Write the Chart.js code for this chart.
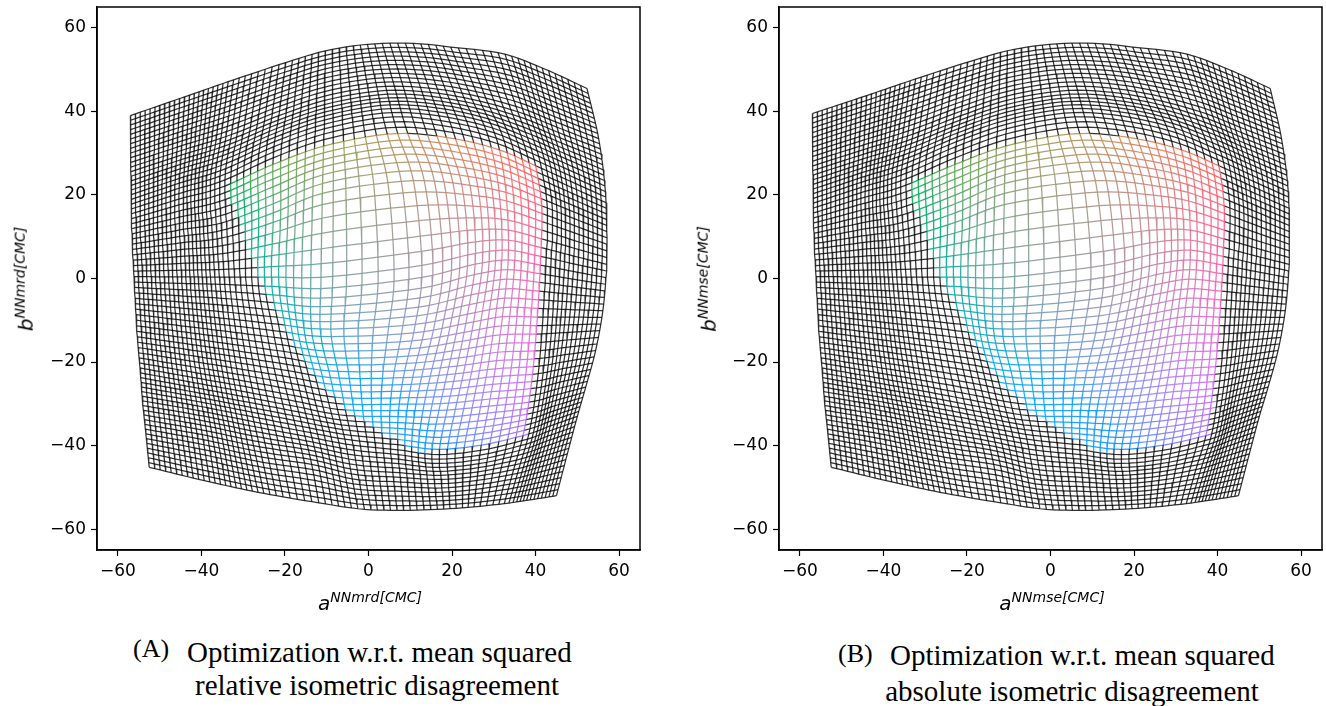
<!DOCTYPE html>
<html lang="en">
<head>
<meta charset="UTF-8">
<title>Isometric disagreement grids</title>
<script src="https://cdn.jsdelivr.net/npm/chart.js"></script>
<style>
    body {
        margin: 0;
        background: #fff;
        width: 1326px;
        height: 706px;
        position: relative;
        overflow: hidden;
    }
    .panel { position: absolute; top: 0; }
    .axlab {
        position: absolute;
        font-family: "DejaVu Sans", sans-serif;
        font-style: italic;
        font-size: 20px;
        color: #000;
        white-space: nowrap;
        line-height: 1;
    }
    .axlab sup { font-size: 14px; }
    .xlab { transform: translateX(-50%); }
    .ylab { transform: translate(-50%, -50%) rotate(-90deg); }
    .cap {
        position: absolute;
        font-family: "Liberation Serif", "Times New Roman", serif;
        font-size: 29px;
        color: #000;
        white-space: nowrap;
        line-height: 1;
    }
    .tag { font-size: 26px; }
    .center { transform: translateX(-50%); }
</style>
</head>
<body>

<canvas id="chartA" class="panel" width="663" height="590" style="left:0"></canvas>
<canvas id="chartB" class="panel" width="663" height="590" style="left:663px"></canvas>

<div class="axlab xlab" style="left:370px; top:590px">a<sup>NNmrd[CMC]</sup></div>
<div class="axlab ylab" style="left:24px; top:279px">b<sup>NNmrd[CMC]</sup></div>
<div class="axlab xlab" style="left:1052px; top:590px">a<sup>NNmse[CMC]</sup></div>
<div class="axlab ylab" style="left:707px; top:279px">b<sup>NNmse[CMC]</sup></div>

<div class="cap tag" style="left:133px; top:636px">(A)</div>
<div class="cap" style="left:187px; top:638px">Optimization w.r.t. mean squared</div>
<div class="cap center" style="left:377px; top:671px">relative isometric disagreement</div>

<div class="cap tag" style="left:838px; top:641px">(B)</div>
<div class="cap" style="left:890px; top:641px">Optimization w.r.t. mean squared</div>
<div class="cap center" style="left:1072px; top:677px">absolute isometric disagreement</div>

<script>
// grid-line number of the mesh nodes
const colKnots = [0, 11, 23, 29, 35.5, 42, 48, 53, 58, 65, 72];   // 73 columns
const rowKnots = [0, 10, 21, 27.5, 33.5, 39.5, 45.5, 51, 57, 64, 71];   // 72 rows
const colLines = 73;
const rowLines = 72;
const xTicks = [-60, -40, -20, 0, 20, 40, 60];
const yTicks = [-60, -40, -20, 0, 20, 40, 60];

// (A) mesh nodes, rows top -> bottom, columns left -> right
const meshAX = [
    [-57.0, -44.0, -29.5, -19.8, -9.5, 1.5, 12.5, 21.5, 31.0, 41.6, 52.3],
    [-56.9, -44.7, -31.2, -21.3, -9.55, 4.1, 16.5, 26.2, 35.3, 44.8, 55.1],
    [-56.7, -45.4, -33.0, -22.9, -9.6, 7.0, 20.85, 31.35, 40.0, 48.4, 56.8],
    [-56.5, -45.1, -32.5, -22.8, -9.8, 11.0, 24.5, 33.0, 41.5, 49.3, 57.1],
    [-56.1, -44.7, -32.0, -23.2, -10.05, 12.8, 25.6, 33.5, 41.2, 49.05, 56.9],
    [-55.7, -44.0, -30.7, -21.4, -10.3, 11.0, 23.5, 32.2, 40.5, 48.25, 56.0],
    [-55.2, -43.1, -29.2, -19.4, -8.25, 8.5, 21.0, 30.5, 39.55, 46.9, 54.2],
    [-54.6, -42.0, -27.6, -17.4, -6.5, 7.2, 18.8, 28.8, 38.4, 45.2, 52.0],
    [-54.1, -40.8, -25.9, -15.5, -4.8, 7.0, 17.0, 27.0, 37.0, 43.5, 50.0],
    [-53.3, -39.4, -24.0, -13.6, -3.3, 7.6, 17.4, 26.1, 34.75, 41.2, 47.6],
    [-52.5, -38.0, -22.05, -11.9, -1.75, 8.4, 18.05, 25.25, 32.5, 38.7, 45.0]
];
const meshAY = [
    [39.0, 43.5, 48.5, 51.7, 54.7, 56.2, 56.2, 55.2, 54.1, 50.4, 45.5],
    [27.8, 31.8, 36.2, 40.1, 43.9, 46.0, 45.35, 43.6, 41.2, 37.5, 33.5],
    [15.5, 19.0, 22.7, 27.3, 32.0, 34.7, 33.4, 30.8, 27.0, 23.25, 19.5],
    [7.6, 9.3, 11.3, 14.6, 19.4, 22.1, 21.15, 19.6, 16.5, 13.5, 10.5],
    [-0.2, -0.4, -0.6, -0.8, -1.05, 1.65, 4.7, 5.6, 4.25, 2.6, 1.0],
    [-8.0, -9.3, -10.75, -11.8, -13.0, -12.0, -9.65, -8.05, -8.2, -8.35, -8.5],
    [-15.9, -17.7, -19.8, -21.3, -23.0, -22.9, -21.9, -20.65, -20.2, -19.1, -18.0],
    [-22.6, -24.9, -27.5, -29.4, -31.4, -31.6, -31.5, -30.55, -29.6, -27.8, -26.0],
    [-29.3, -31.6, -34.6, -36.6, -38.6, -39.8, -40.9, -39.9, -37.6, -35.3, -33.0],
    [-37.2, -39.8, -43.0, -44.5, -46.9, -47.6, -48.1, -47.3, -45.75, -43.9, -42.0],
    [-45.2, -48.7, -52.0, -53.7, -55.2, -55.5, -55.2, -54.7, -53.9, -53.0, -52.0]
];
// (A) outline of the coloured (in-gamut) part
const gamutA = [
    [-33.4, 23.0], [-21.4, 28.4], [-7.8, 32.9], [7.0, 35.0], [21.0, 33.6], [31.8, 30.9], [40.4, 27.4],
    [41.9, 16.2], [41.6, 4.6], [41.0, -7.4], [40.2, -19.4], [39.0, -29.8], [37.6, -38.0],
    [27.5, -40.3], [17.1, -41.4], [11.6, -41.6],
    [3.0, -36.6], [-5.2, -31.5], [-12.3, -24.4], [-19.4, -13.3], [-26.5, 0.3], [-31.4, 15.0], [-33.6, 20.0]
];

// (B) mesh nodes
const meshBX = [
    [-57.0, -44.0, -29.5, -19.8, -9.5, 1.5, 12.5, 21.5, 31.0, 41.8, 52.6],
    [-56.9, -44.7, -31.3, -21.3, -9.55, 4.1, 16.5, 26.2, 35.4, 45.0, 55.3],
    [-56.7, -45.4, -33.2, -22.9, -9.6, 7.0, 20.85, 31.35, 40.3, 48.6, 57.0],
    [-56.5, -45.1, -32.6, -22.8, -9.8, 11.0, 24.5, 33.0, 41.6, 49.4, 57.2],
    [-56.1, -44.7, -32.0, -23.2, -10.05, 12.8, 25.6, 33.5, 41.3, 49.1, 57.0],
    [-55.7, -44.0, -30.7, -21.4, -10.3, 11.0, 23.5, 32.2, 40.6, 48.3, 56.1],
    [-55.2, -43.1, -29.2, -19.4, -8.25, 8.5, 21.0, 30.5, 39.6, 47.0, 54.3],
    [-54.6, -42.0, -27.6, -17.4, -6.5, 7.2, 18.8, 28.8, 38.5, 45.3, 52.1],
    [-54.1, -40.8, -25.9, -15.5, -4.8, 7.0, 17.0, 27.0, 37.2, 43.6, 50.0],
    [-53.3, -39.4, -24.0, -13.6, -3.3, 7.6, 17.4, 26.1, 34.8, 41.2, 47.6],
    [-52.5, -38.0, -22.05, -11.9, -1.75, 8.4, 18.05, 25.25, 32.5, 38.7, 45.0]
];
const meshBY = [
    [39.5, 43.8, 48.7, 51.8, 54.7, 56.2, 56.2, 55.2, 54.1, 50.4, 45.5],
    [28.1, 32.0, 36.3, 40.1, 43.9, 46.0, 45.35, 43.6, 41.2, 37.5, 33.5],
    [15.7, 19.2, 22.9, 27.3, 32.0, 34.7, 33.4, 30.8, 27.0, 23.25, 19.5],
    [7.7, 9.4, 11.4, 14.6, 19.4, 22.1, 21.15, 19.6, 16.5, 13.5, 10.5],
    [-0.2, -0.4, -0.6, -0.8, -1.05, 1.65, 4.7, 5.6, 4.25, 2.6, 1.0],
    [-8.0, -9.3, -10.75, -11.8, -13.0, -12.0, -9.65, -8.05, -8.2, -8.35, -8.5],
    [-15.9, -17.7, -19.8, -21.3, -23.0, -22.9, -21.9, -20.65, -20.2, -19.1, -18.0],
    [-22.6, -24.9, -27.5, -29.4, -31.4, -31.6, -31.5, -30.55, -29.6, -27.8, -26.0],
    [-29.3, -31.6, -34.6, -36.6, -38.6, -39.8, -40.9, -39.9, -37.6, -35.3, -33.0],
    [-37.2, -39.8, -43.0, -44.5, -46.9, -47.6, -48.1, -47.3, -45.75, -43.9, -42.0],
    [-45.2, -48.7, -52.0, -53.7, -55.2, -55.5, -55.2, -54.7, -53.9, -53.0, -52.0]
];
const gamutB = [
    [-33.8, 23.2], [-21.4, 28.5], [-7.8, 32.9], [7.0, 35.0], [21.0, 33.6], [31.8, 30.9], [40.7, 27.4],
    [42.0, 16.2], [41.7, 4.6], [41.1, -7.4], [40.3, -19.4], [39.2, -29.8], [37.8, -38.0],
    [27.5, -40.3], [17.1, -41.4], [11.2, -41.6],
    [3.0, -36.6], [-5.2, -31.5], [-12.3, -24.4], [-19.4, -13.3], [-26.5, 0.3], [-31.6, 15.0], [-33.9, 20.0]
];

// ---- helpers ----
function slopes(t, v) {
    const n = t.length, m = [];
    for (let i = 0; i < n; i++) {
        if (i === 0) m.push((v[1] - v[0]) / (t[1] - t[0]));
        else if (i === n - 1) m.push((v[n - 1] - v[n - 2]) / (t[n - 1] - t[n - 2]));
        else {
            const h0 = t[i] - t[i - 1], h1 = t[i + 1] - t[i];
            const d0 = (v[i] - v[i - 1]) / h0, d1 = (v[i + 1] - v[i]) / h1;
            m.push((d0 * h1 + d1 * h0) / (h0 + h1));
        }
    }
    return m;
}

function spline(t, v, m, x) {
    let s = 0;
    while (s < t.length - 2 && x > t[s + 1]) s++;
    const h = t[s + 1] - t[s], u = (x - t[s]) / h;
    const u2 = u * u, u3 = u2 * u;
    return (2 * u3 - 3 * u2 + 1) * v[s] + (u3 - 2 * u2 + u) * h * m[s]
        + (-2 * u3 + 3 * u2) * v[s + 1] + (u3 - u2) * h * m[s + 1];
}

// every drawn grid line passes through the read-off nodes
function fillMesh(mesh, colIdx, rowIdx) {
    const along = mesh.map(row => {
        const m = slopes(colKnots, row);
        return colIdx.map(c => spline(colKnots, row, m, c));
    });
    const out = rowIdx.map(() => []);
    colIdx.forEach((c, ci) => {
        const col = along.map(r => r[ci]);
        const m = slopes(rowKnots, col);
        rowIdx.forEach((r, ri) => { out[ri][ci] = spline(rowKnots, col, m, r); });
    });
    return out;
}

function inside(poly, x, y) {
    let hit = false;
    for (let i = 0, j = poly.length - 1; i < poly.length; j = i++) {
        const [xi, yi] = poly[i], [xj, yj] = poly[j];
        if ((yi > y) !== (yj > y) && x < (xj - xi) * (y - yi) / (yj - yi) + xi) hit = !hit;
    }
    return hit;
}

function labColor(L, a, b) {
    const fy = (L + 16) / 116, fx = fy + a / 500, fz = fy - b / 200;
    const inv = t => t ** 3 > 0.008856 ? t ** 3 : (t - 16 / 116) / 7.787;
    const X = 0.95047 * inv(fx), Y = inv(fy), Z = 1.08883 * inv(fz);
    const lin = [
        3.2406 * X - 1.5372 * Y - 0.4986 * Z,
        -0.9689 * X + 1.8758 * Y + 0.0415 * Z,
        0.0557 * X - 0.2040 * Y + 1.0570 * Z
    ];
    const rgb = lin.map(c => {
        c = Math.min(1, Math.max(0, c));
        c = c <= 0.0031308 ? 12.92 * c : 1.055 * Math.pow(c, 1 / 2.4) - 0.055;
        return Math.round(c * 255);
    });
    return `rgba(${rgb[0]},${rgb[1]},${rgb[2]},0.88)`;
}

const darkLine = 'rgba(0,0,0,0.8)';

function segColor(poly, x, y, c, r) {
    if (!inside(poly, x, y)) return darkLine;
    return labColor(61, 3.8 * (c - 40), 3.8 * (32 - r));
}

function meshDataset(meshX, meshY, poly) {
    const colIdx = Array.from({ length: colLines }, (_, i) => i);
    const rowIdx = Array.from({ length: rowLines }, (_, i) => i);
    const X = fillMesh(meshX, colIdx, rowIdx), Y = fillMesh(meshY, colIdx, rowIdx);
    const pts = [], colors = [];
    for (let r = 0; r < rowLines; r++) {
        for (let c = 0; c < colLines; c++) {
            pts.push({ x: X[r][c], y: Y[r][c] });
            colors.push(c < colLines - 1 ? segColor(poly, (X[r][c] + X[r][c + 1]) / 2, (Y[r][c] + Y[r][c + 1]) / 2,
                c + 0.5, r) : darkLine);
        }
        pts.push({ x: null, y: null }); colors.push(darkLine);
    }
    for (let c = 0; c < colLines; c++) {
        for (let r = 0; r < rowLines; r++) {
            pts.push({ x: X[r][c], y: Y[r][c] });
            colors.push(r < rowLines - 1 ? segColor(poly, (X[r][c] + X[r + 1][c]) / 2, (Y[r][c] + Y[r + 1][c]) / 2,
                c, r + 0.5) : darkLine);
        }
        pts.push({ x: null, y: null }); colors.push(darkLine);
    }
    return {
        data: pts,
        borderWidth: 1.25,
        borderColor: darkLine,
        pointRadius: 0,
        spanGaps: false,
        tension: 0,
        segment: { borderColor: ctx => colors[ctx.p0DataIndex] }
    };
}

const frame = {
    id: 'frame',
    afterDraw(chart) {
        const { ctx, chartArea: a } = chart;
        ctx.save();
        ctx.strokeStyle = '#000';
        ctx.lineWidth = 1.5;
        ctx.strokeRect(a.left, a.top, a.right - a.left, a.bottom - a.top);
        ctx.restore();
    }
};

const minus = v => v < 0 ? '\u2212' + (-v) : String(v);

function makeChart(id, meshX, meshY, poly, yWidth, padRight) {
    const tickFont = { family: 'DejaVu Sans', size: 17 };
    return new Chart(document.getElementById(id), {
        type: 'line',
        data: { datasets: [meshDataset(meshX, meshY, poly)] },
        options: {
            responsive: false,
            animation: false,
            events: [],
            layout: { padding: { top: 7, right: padRight, left: 0, bottom: 0 } },
            plugins: { legend: { display: false }, tooltip: { enabled: false } },
            scales: {
                x: {
                    type: 'linear', min: -65, max: 65,
                    afterBuildTicks: s => { s.ticks = xTicks.map(v => ({ value: v })); },
                    afterFit: s => { s.height = 40; s.paddingLeft = 0; s.paddingRight = 0; },
                    grid: { drawOnChartArea: false, tickLength: 6, tickWidth: 1.2, tickColor: '#000' },
                    border: { color: '#000', width: 1.5 },
                    ticks: { font: tickFont, color: '#000', padding: 5, maxRotation: 0, callback: minus }
                },
                y: {
                    type: 'linear', min: -65, max: 65,
                    afterBuildTicks: s => { s.ticks = yTicks.map(v => ({ value: v })); },
                    afterFit: s => { s.width = yWidth; s.paddingTop = 0; s.paddingBottom = 0; },
                    grid: { drawOnChartArea: false, tickLength: 6, tickWidth: 1.2, tickColor: '#000' },
                    border: { color: '#000', width: 1.5 },
                    ticks: { font: tickFont, color: '#000', padding: 5, callback: minus }
                }
            }
        },
        plugins: [frame]
    });
}

makeChart('chartA', meshAX, meshAY, gamutA, 97, 23);
makeChart('chartB', meshBX, meshBY, gamutB, 116, 4);
</script>
</body>
</html>
